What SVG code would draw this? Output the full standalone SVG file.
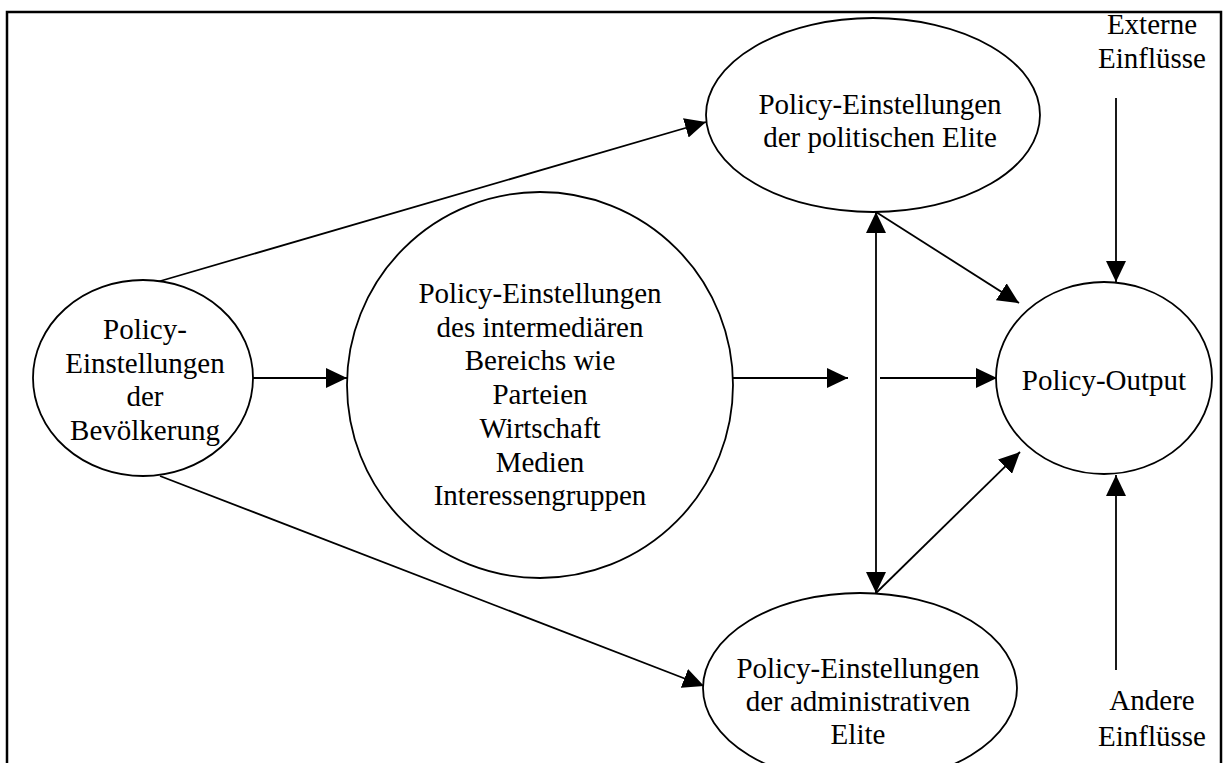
<svg xmlns="http://www.w3.org/2000/svg" width="1226" height="763" viewBox="0 0 1226 763">
<defs>
<marker id="ah" markerUnits="userSpaceOnUse" markerWidth="21" markerHeight="20" refX="21" refY="10" orient="auto-start-reverse" viewBox="0 0 21 20">
<path d="M0,0 L21,10 L0,20 z" fill="#000"/>
</marker>
<style>
.n{fill:#fff;stroke:#000;stroke-width:1.8}
.t{font-family:"Liberation Serif","Times New Roman",serif;font-size:29px;fill:#000;text-anchor:middle}
.c{stroke:#000;stroke-width:1.8;fill:none}
.a{marker-end:url(#ah)}
</style>
</defs>
<rect width="1226" height="763" fill="#fff"/>
<rect id="frame" x="7" y="12" width="1214" height="780" fill="none" stroke="#000" stroke-width="2.5"/>
<g id="connectors">
<line class="c a" x1="157" y1="282" x2="706" y2="122"/>
<line class="c a" x1="160" y1="476" x2="704" y2="686"/>
<line class="c a" x1="253" y1="378" x2="347" y2="378"/>
<line class="c a" x1="732" y1="378" x2="848" y2="378"/>
<line class="c a" x1="880" y1="378" x2="997" y2="378"/>
<line class="c" x1="876" y1="212" x2="876" y2="593" marker-start="url(#ah)" marker-end="url(#ah)"/>
<line class="c a" x1="876" y1="212" x2="1019" y2="303"/>
<line class="c a" x1="876" y1="593" x2="1020" y2="452"/>
<line class="c a" x1="1116" y1="98" x2="1116" y2="282"/>
<line class="c a" x1="1116" y1="670" x2="1116" y2="475"/>
</g>
<g id="bevoelkerung">
<ellipse class="n" cx="143" cy="378" rx="110" ry="98"/>
<text class="t" x="145" y="339">Policy-</text>
<text class="t" x="145" y="373">Einstellungen</text>
<text class="t" x="145" y="406">der</text>
<text class="t" x="145" y="440">Bevölkerung</text>
</g>
<g id="intermediaer">
<ellipse class="n" cx="540" cy="385" rx="193" ry="193"/>
<text class="t" x="540" y="303">Policy-Einstellungen</text>
<text class="t" x="540" y="337">des intermediären</text>
<text class="t" x="540" y="370">Bereichs wie</text>
<text class="t" x="540" y="404">Parteien</text>
<text class="t" x="540" y="438">Wirtschaft</text>
<text class="t" x="540" y="472">Medien</text>
<text class="t" x="540" y="505">Interessengruppen</text>
</g>
<g id="politische-elite">
<ellipse class="n" cx="873" cy="115" rx="167" ry="97"/>
<text class="t" x="880" y="114">Policy-Einstellungen</text>
<text class="t" x="880" y="147">der politischen Elite</text>
</g>
<g id="administrative-elite">
<ellipse class="n" cx="860" cy="688" rx="157" ry="95"/>
<text class="t" x="858" y="678">Policy-Einstellungen</text>
<text class="t" x="858" y="711">der administrativen</text>
<text class="t" x="858" y="744">Elite</text>
</g>
<g id="output">
<ellipse class="n" cx="1104" cy="378" rx="108" ry="96"/>
<text class="t" x="1104" y="390">Policy-Output</text>
</g>
<g id="externe">
<text class="t" x="1152" y="34">Externe</text>
<text class="t" x="1152" y="68">Einflüsse</text>
</g>
<g id="andere">
<text class="t" x="1152" y="710">Andere</text>
<text class="t" x="1152" y="746">Einflüsse</text>
</g>
</svg>
